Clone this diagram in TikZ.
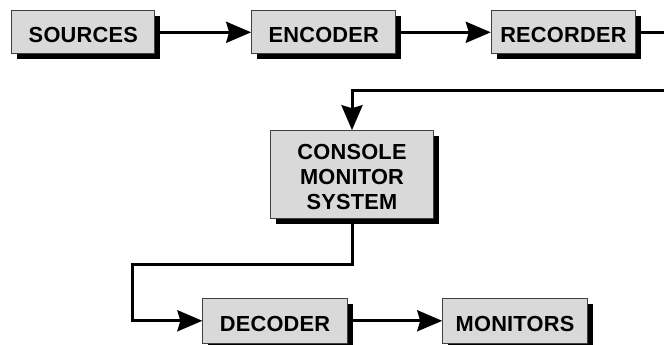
\documentclass[tikz,border=0pt]{standalone}
\usepackage{fontspec}
\newfontfamily\labfont{Liberation Sans}[LetterSpace=1]
\usetikzlibrary{arrows.meta,shadows}
\tikzset{
  blockbox/.style={draw=black!75, line width=1pt, fill=black!15, inner sep=0pt,
    drop shadow={shadow xshift=5.5pt, shadow yshift=-5.5pt, opacity=1, fill=black, draw=none}},
  lab/.style={font=\labfont\bfseries\fontsize{21.8}{25}\selectfont, align=center, inner sep=0pt, yshift=-3pt},
  conn/.style={line width=3pt, -{Stealth[length=25pt, width=21pt, inset=3pt]}},
  plainconn/.style={line width=3pt}
}
\begin{document}
\begin{tikzpicture}[x=1pt,y=1pt]
\useasboundingbox (0,0) rectangle (664,345);
\node[blockbox, minimum width=143.3pt, minimum height=43.3pt,
  label={[lab]center:SOURCES}] (sources) at (83.3,312.7) {};
\node[blockbox, minimum width=144.3pt, minimum height=43.3pt,
  label={[lab]center:ENCODER}] (encoder) at (323.8,312.7) {};
\node[blockbox, minimum width=144.2pt, minimum height=43.3pt,
  label={[lab]center:RECORDER}] (recorder) at (563.4,312.7) {};
\node[blockbox, minimum width=162.6pt, minimum height=87.6pt,
  label={[lab, yshift=0.5pt]center:CONSOLE\\MONITOR\\SYSTEM}] (console) at (352,170.5) {};
\node[blockbox, minimum width=144.3pt, minimum height=45pt,
  label={[lab]center:DECODER}] (decoder) at (275,24.2) {};
\node[blockbox, minimum width=144.6pt, minimum height=45pt,
  label={[lab]center:MONITORS}] (monitors) at (515,24.2) {};
\coordinate (rout) at (664,312.7);
\coordinate (rin) at (664,254);
\coordinate (bend) at (132,80);
\draw[conn] (sources.east) -- (encoder.west);
\draw[conn] (encoder.east) -- (recorder.west);
\draw[plainconn] (recorder.east) -- (rout);
\draw[conn] (rin) -| (console.north);
\draw[conn] (console.south) |- (bend) |- (decoder.west);
\draw[conn] (decoder.east) -- (monitors.west);
\end{tikzpicture}
\end{document}
